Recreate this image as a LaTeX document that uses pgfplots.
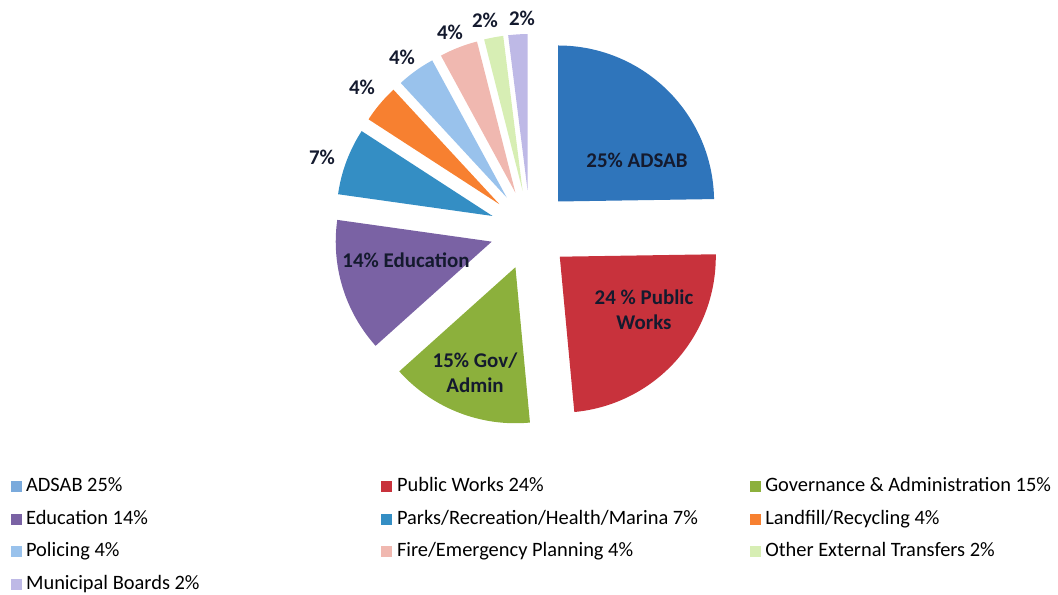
\documentclass[border=0pt]{standalone}
\usepackage{pgfplots}
\pgfplotsset{compat=1.18}
\usepackage{fontspec}
\setmainfont{Carlito}
\definecolor{cADSAB}{HTML}{2F75BB}
\definecolor{cADSABl}{HTML}{7AAADC}
\definecolor{cPW}{HTML}{C8323C}
\definecolor{cGov}{HTML}{8CB03C}
\definecolor{cEdu}{HTML}{7A62A4}
\definecolor{cParks}{HTML}{348EC4}
\definecolor{cLand}{HTML}{F78030}
\definecolor{cPol}{HTML}{99C2EC}
\definecolor{cFire}{HTML}{F0B8B0}
\definecolor{cOther}{HTML}{D7EEB4}
\definecolor{cMun}{HTML}{BEB9E6}
\definecolor{lbl}{HTML}{141A2E}
% #1 cumulative percent before slice, #2 percent, #3 colour
\newcommand{\slice}[3]{%
  \pgfmathsetmacro\as{90-360/101*(#1)}%
  \pgfmathsetmacro\ae{90-360/101*(#1+#2)}%
  \pgfmathsetmacro\am{(\as+\ae)/2}%
  \pgfmathsetmacro\ox{530+40*cos(\am)}%
  \pgfmathsetmacro\oy{365+40*sin(\am)}%
  \edef\temp{\noexpand\addplot[fill=#3, draw=none, domain=\ae:\as, samples=90, forget plot] ({\ox+156*cos(x)},{\oy+156*sin(x)}) -- (axis cs:\ox,\oy) -- cycle;}%
  \temp}
\newcommand{\sq}[1]{\addlegendimage{legend image code/.code={\fill[#1] (0bp,-5bp) rectangle (10bp,5bp);}}}
\begin{document}
\begin{tikzpicture}
\begin{axis}[
  width=1058bp, height=595bp, scale only axis,
  xmin=0, xmax=1058, ymin=0, ymax=595,
  hide axis, clip=false,
  legend columns=3,
  legend cell align=left,
  legend style={at={(axis cs:8,120)}, anchor=north west, draw=none, fill=none,
    font=\fontsize{20.5}{23}\selectfont,
    nodes={inner sep=0.5bp, text height=14bp, text depth=3.5bp},
    row sep=14bp,
    /tikz/column 1/.style={column sep=4bp},
    /tikz/column 2/.style={column sep=181bp},
    /tikz/column 3/.style={column sep=5bp},
    /tikz/column 4/.style={column sep=52bp},
    /tikz/column 5/.style={column sep=4bp}},
]
\slice{0}{25}{cADSAB}
\slice{25}{24}{cPW}
\slice{49}{15}{cGov}
\slice{64}{14}{cEdu}
\slice{78}{7}{cParks}
\slice{85}{4}{cLand}
\slice{89}{4}{cPol}
\slice{93}{4}{cFire}
\slice{97}{2}{cOther}
\slice{99}{2}{cMun}

\sq{cADSABl}\addlegendentry{ADSAB 25\%}
\sq{cPW}\addlegendentry{Public Works 24\%}
\sq{cGov}\addlegendentry{Governance \& Administration 15\%}
\sq{cEdu}\addlegendentry{Education 14\%}
\sq{cParks}\addlegendentry{Parks/Recreation/Health/Marina 7\%}
\sq{cLand}\addlegendentry{Landfill/Recycling 4\%}
\sq{cPol}\addlegendentry{Policing 4\%}
\sq{cFire}\addlegendentry{Fire/Emergency Planning 4\%}
\sq{cOther}\addlegendentry{Other External Transfers 2\%}
\sq{cMun}\addlegendentry{Municipal Boards 2\%}

\begin{scope}[every node/.style={font=\fontsize{21}{25}\selectfont\bfseries, text=lbl, align=center, inner sep=0pt}]
\node at (axis cs:637,435) {25\% ADSAB};
\node at (axis cs:644,285) {24 \% Public\\Works};
\node at (axis cs:475,222) {15\% Gov/\\Admin};
\node at (axis cs:406,335) {14\% Education};
\node at (axis cs:322,438) {7\%};
\node at (axis cs:362,508) {4\%};
\node at (axis cs:402,538) {4\%};
\node at (axis cs:450,563) {4\%};
\node at (axis cs:485,575) {2\%};
\node at (axis cs:522,577) {2\%};
\end{scope}
\end{axis}
\pgfresetboundingbox
\useasboundingbox (current axis.south west) rectangle (current axis.north east);
\end{tikzpicture}
\end{document}
